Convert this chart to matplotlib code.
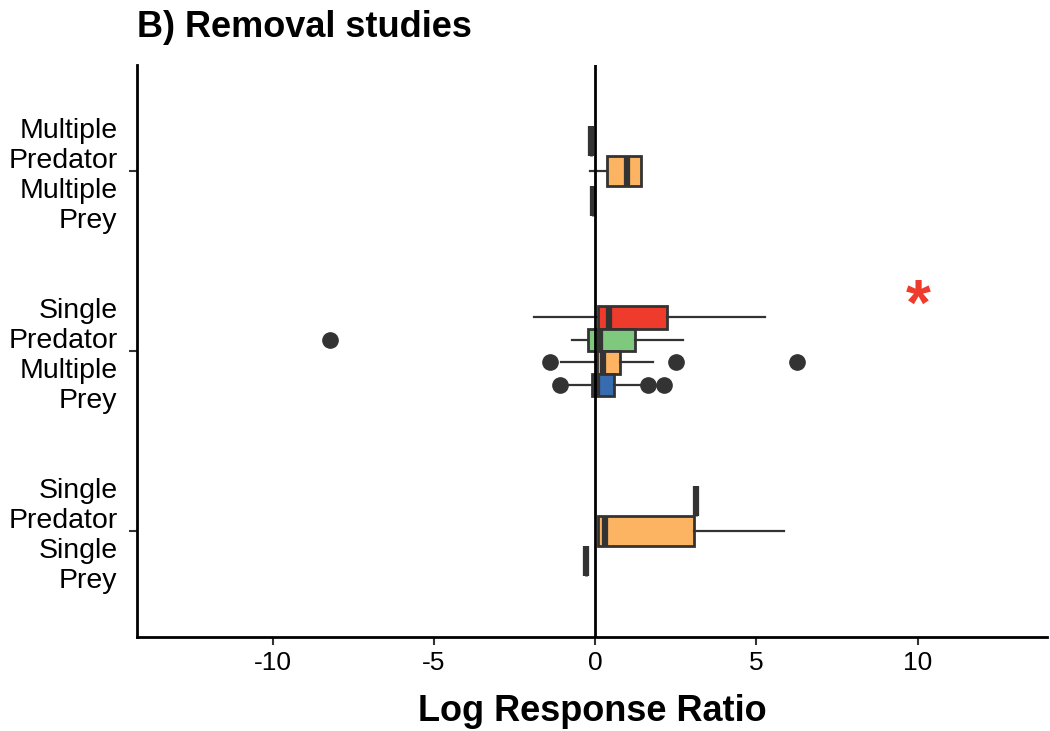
import matplotlib
matplotlib.use("Agg")
import matplotlib.pyplot as plt

plt.rcParams['font.family'] = ['Liberation Sans', 'DejaVu Sans']

# Categorias (de baixo para cima)
categorias = [
    "Single\nPredator\nSingle\nPrey",
    "Single\nPredator\nMultiple\nPrey",
    "Multiple\nPredator\nMultiple\nPrey",
]

# Cores por grupo
cores = {"red": "#EF3B2C", "green": "#7FC97F", "orange": "#FDB462", "blue": "#386CB0"}

# Caixas: categoria, grupo (ordem de cima para baixo dentro da categoria)
cat_idx = [2, 2, 2, 1, 1, 1, 1, 0, 0, 0]
grupo = ["red", "orange", "blue", "red", "green", "orange", "blue", "red", "orange", "blue"]
q1 = [-0.12, 0.37, -0.06, 0.08, -0.23, 0.05, -0.10, 3.12, 0.10, -0.28]
med = [-0.12, 1.00, -0.06, 0.43, 0.15, 0.25, 0.05, 3.12, 0.30, -0.28]
q3 = [-0.12, 1.42, -0.06, 2.22, 1.22, 0.77, 0.57, 3.12, 3.06, -0.28]
whis_lo = [-0.12, -0.15, -0.06, -1.91, -0.72, -1.06, -0.85, 3.12, 0.10, -0.28]
whis_hi = [-0.12, 1.42, -0.06, 5.26, 2.73, 1.78, 1.44, 3.12, 5.84, -0.28]
outliers = [[], [], [], [], [-8.22], [-1.41, 2.50, 6.27], [-1.10, 1.63, 2.14], [], [], []]

# posicoes dodge
largura_total = 0.5
n_por_cat = {c: cat_idx.count(c) for c in set(cat_idx)}
pos = []
larg = []
contador = {c: 0 for c in n_por_cat}
for c in cat_idx:
    n = n_por_cat[c]
    w = largura_total / n
    i = contador[c]
    contador[c] += 1
    pos.append(c + 1 + largura_total / 2 - w * (i + 0.5))
    larg.append(w)

stats = []
for k in range(len(cat_idx)):
    stats.append(dict(med=med[k], q1=q1[k], q3=q3[k], whislo=whis_lo[k],
                      whishi=whis_hi[k], fliers=outliers[k]))

fig = plt.figure(figsize=(10.5, 7.31), dpi=100)
ax = fig.add_axes([0.1305, 0.1286, 0.8665, 0.7824])

escuro = "#333333"
bp = ax.bxp(stats, positions=pos, widths=larg, orientation='horizontal',
            patch_artist=True, showcaps=False,
            boxprops=dict(edgecolor=escuro, linewidth=2.0),
            whiskerprops=dict(color=escuro, linewidth=1.6),
            medianprops=dict(color=escuro, linewidth=4.5, solid_capstyle='butt'),
            flierprops=dict(marker='o', markerfacecolor=escuro, markeredgecolor=escuro,
                            markersize=11))
for patch, g in zip(bp['boxes'], grupo):
    patch.set_facecolor(cores[g])

ax.axvline(0, color='black', linewidth=2.0, zorder=5)

ax.text(10, 2.24, "*", color="#EF3B2C", fontsize=46, ha='center', va='center',
        fontweight='bold')

ax.set_xlim(-14.2, 14.0)
ax.set_ylim(0.41, 3.59)
ax.set_xticks([-10, -5, 0, 5, 10])
ax.set_xticklabels(["-10", "-5", "0", "5", "10"], fontsize=19)
ax.set_yticks([1, 2, 3])
ax.set_yticklabels(categorias, fontsize=20.5, ha='right')

for s in ['top', 'right']:
    ax.spines[s].set_visible(False)
for s in ['left', 'bottom']:
    ax.spines[s].set_linewidth(2.0)
    ax.spines[s].set_color('black')
ax.tick_params(axis='both', length=6, width=1.5, color=escuro, labelcolor='black')
ax.tick_params(axis='y', pad=8)
ax.tick_params(axis='x', pad=4)

ax.set_xlabel("Log Response Ratio", fontsize=26, fontweight='bold', labelpad=14)
ax.set_title("B) Removal studies", fontsize=26, fontweight='bold', loc='left', pad=20)

fig.savefig("out.png", dpi=100)
